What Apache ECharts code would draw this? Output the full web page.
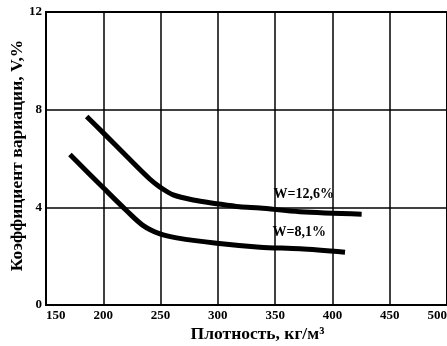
<!DOCTYPE html>
<html><head><meta charset="utf-8">
<script src="https://cdn.jsdelivr.net/npm/echarts@6/dist/echarts.min.js"></script>
<style>html,body{margin:0;padding:0;background:#fff}#c{width:447px;height:346px}</style>
</head><body><div id="c"></div>
<script>
// Data
const xTicks = [150, 200, 250, 300, 350, 400, 450, 500];
const yTicks = [0, 4, 8, 12];
const densityHigh = [185.5, 200, 220.4, 240.8, 249.5, 261, 278.5, 299, 319, 336.7, 371.6, 425.5];
const cvHigh      = [7.72, 7.05, 6.09, 5.15, 4.83, 4.51, 4.30, 4.15, 4.02, 3.97, 3.82, 3.72];
const densityLow  = [170.9, 200, 220.4, 234.9, 249.5, 264, 299, 336.7, 371.6, 411];
const cvLow       = [6.16, 4.80, 3.86, 3.25, 2.91, 2.75, 2.53, 2.37, 2.30, 2.16];
const seriesNames = ['W=12,6%', 'W=8,1%'];
const labelX = [375, 371];
const labelY = [4.55, 2.96];
const xTitle = 'Плотность, кг/м³';
const yTitle = 'Коэффициент вариации, V,%';

const font = 'Liberation Serif, Times New Roman, serif';
const pairs = (xs, ys) => xs.map((x, i) => [x, ys[i]]);
const lineStyle = {color: '#000', width: 5};
const lblStyle = {fontFamily: font, fontSize: 14, fontWeight: 'bold', color: '#000'};

const chart = echarts.init(document.getElementById('c'));
chart.setOption({
  animation: false,
  backgroundColor: '#fff',
  grid: {left: 46, right: 0, top: 12, bottom: 41, show: true, borderColor: '#000', borderWidth: 2,
         containLabel: false, outerBoundsMode: 'none'},
  xAxis: {
    type: 'value', min: xTicks[0], max: xTicks[xTicks.length - 1], interval: 50,
    name: xTitle, nameLocation: 'middle', nameGap: 20, nameMoveOverlap: false,
    nameTextStyle: {fontFamily: font, fontSize: 17.5, fontWeight: 'bold', color: '#000', padding: [0, 0, 0, 22]},
    axisLine: {lineStyle: {color: '#000', width: 2}},
    axisTick: {show: false},
    axisLabel: {fontFamily: font, fontSize: 13, fontWeight: 'bold', color: '#000', margin: 4,
      alignMinLabel: 'left', alignMaxLabel: 'right'},
    splitLine: {show: true, lineStyle: {color: '#000', width: 1.5}}
  },
  yAxis: {
    type: 'value', min: yTicks[0], max: yTicks[yTicks.length - 1], interval: 4,
    name: yTitle, nameLocation: 'middle', nameGap: 20, nameRotate: 90, nameMoveOverlap: false,
    nameTextStyle: {fontFamily: font, fontSize: 17.5, fontWeight: 'bold', color: '#000', padding: [0, 0, 0, 6]},
    axisLine: {show: true, lineStyle: {color: '#000', width: 2}},
    axisTick: {show: false},
    axisLabel: {fontFamily: font, fontSize: 13, fontWeight: 'bold', color: '#000', margin: 4},
    splitLine: {show: true, lineStyle: {color: '#000', width: 1.5}}
  },
  series: [
    {name: seriesNames[0], type: 'line', smooth: 0.3, symbol: 'none', data: pairs(densityHigh, cvHigh), lineStyle: lineStyle,
     markPoint: {symbol: 'circle', symbolSize: 0, data: [{coord: [labelX[0], labelY[0]], value: seriesNames[0]}],
       label: Object.assign({show: true, formatter: seriesNames[0]}, lblStyle)}},
    {name: seriesNames[1], type: 'line', smooth: 0.3, symbol: 'none', data: pairs(densityLow, cvLow), lineStyle: lineStyle,
     markPoint: {symbol: 'circle', symbolSize: 0, data: [{coord: [labelX[1], labelY[1]], value: seriesNames[1]}],
       label: Object.assign({show: true, formatter: seriesNames[1]}, lblStyle)}}
  ]
});
</script></body></html>
